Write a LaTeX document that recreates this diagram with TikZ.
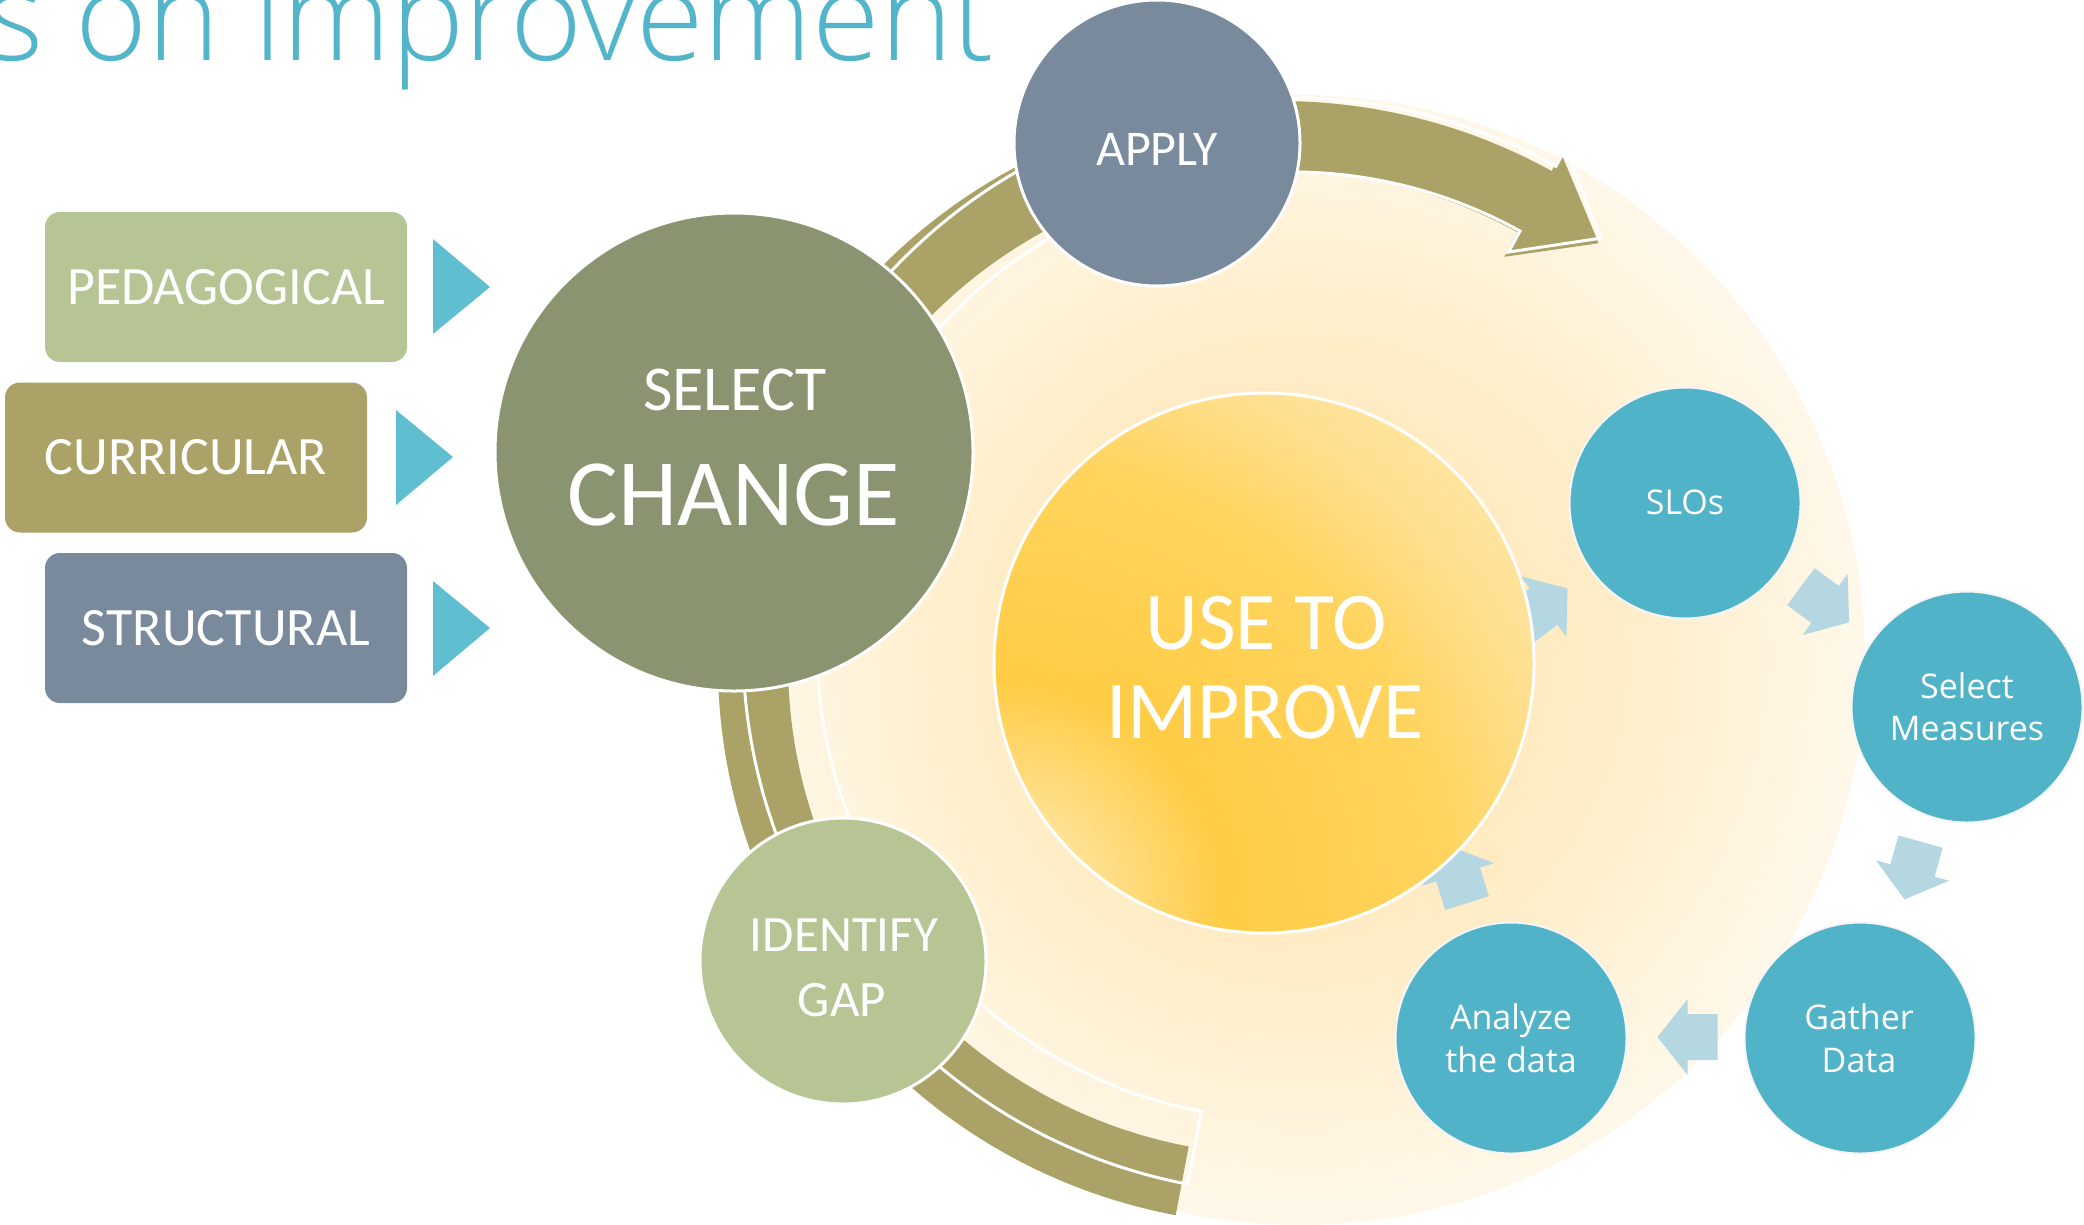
\documentclass[tikz,border=0pt]{standalone}
\usepackage{fontspec}
\setmainfont{Carlito}
\newfontfamily\osans{Open Sans}
\IfFontExistsTF{Open Sans Light}{\newfontfamily\ttlfont{Open Sans Light}}{\newfontfamily\ttlfont{Open Sans}}
\definecolor{olivearc}{HTML}{AAA266}
\definecolor{sage}{HTML}{B7C493}
\definecolor{dgreen}{HTML}{8A9470}
\definecolor{slate}{HTML}{788A9C}
\definecolor{tealc}{HTML}{51B3C8}
\definecolor{tric}{HTML}{5FBFD1}
\definecolor{lblue}{HTML}{B4D7E1}
\definecolor{titlec}{HTML}{52B5CA}
\definecolor{pg1}{HTML}{FFE6B0}
\definecolor{pg2}{HTML}{FFEDC8}
\definecolor{pg3}{HTML}{FFF8EA}
\definecolor{sun0}{HTML}{FFF0CC}
\definecolor{sun1}{HTML}{FFCC44}
\definecolor{sun2}{HTML}{FFD45E}
\definecolor{sun3}{HTML}{FFDF8E}
\definecolor{sun4}{HTML}{FFEAB0}
\pgfdeclareradialshading{paleglow}{\pgfpoint{0bp}{0bp}}{color(0bp)=(pg1); color(14bp)=(pg2); color(25bp)=(pg3); color(50bp)=(pg3)}
\pgfdeclareradialshading{sunglow}{\pgfpoint{0bp}{0bp}}{color(0bp)=(sun0); color(8bp)=(sun1); color(16bp)=(sun2); color(20bp)=(sun3); color(25bp)=(sun4); color(50bp)=(sun4)}
\tikzset{
  bigcirc/.style={circle, draw=white, line width=3pt, inner sep=0pt, outer sep=0pt},
  tealcirc/.style={circle, fill=tealc, draw=white!92!gray, line width=2pt, minimum size=231pt, inner sep=0pt},
  catbox/.style={rounded corners=15pt, minimum width=362pt, minimum height=150pt, inner sep=0pt, text=white, font=\fontsize{54}{60}\selectfont},
  lbl/.style={anchor=base, inner sep=0pt, text=white},
  small/.style={lbl, font=\osans\fontsize{34}{40}\selectfont},
  barrow/.pic={\fill[lblue] (-30,-23) -- (0,-23) -- (0,-38) -- (30,0) -- (0,38) -- (0,23) -- (-30,23) -- cycle;}
}
\begin{document}
\begin{tikzpicture}[x=1pt,y=-1pt]
\useasboundingbox (0,0) rectangle (2084,1224);
\clip (0,0) rectangle (2084,1224);
% pale background disc
\shade[shading=paleglow] (1300,660) circle[radius=565];
% olive circular arrow
\coordinate (ac) at (1280,663);
\fill[olivearc] ([shift={(100.7:562)}]ac) arc[start angle=100.7,end angle=298.9,radius=562]
  -- ([shift={(298.9:582)}]ac) -- ([shift={(307.2:527)}]ac) -- ([shift={(298.9:464)}]ac)
  -- ([shift={(298.9:492)}]ac) arc[start angle=298.9,end angle=100.7,radius=492] -- cycle;
% white offset outline of the arrow
\coordinate (oc) at (1291,646);
\draw[white, line width=3pt] ([shift={(100.9:548)}]oc) arc[start angle=100.9,end angle=298.9,radius=548]
  -- ([shift={(298.9:568)}]oc) -- ([shift={(307.2:512)}]oc) -- ([shift={(298.9:450)}]oc)
  -- ([shift={(298.9:474)}]oc) arc[start angle=298.9,end angle=100.9,radius=474] -- cycle;
% small cycle arrows
\pic[rotate=-36.5] at (1825,604.5) {barrow};
\pic[rotate=-105.6] at (1912.5,870.5) {barrow};
\pic[rotate=-180] at (1687.5,1037) {barrow};
\pic[rotate=107.5] at (1458,874.5) {barrow};
\pic[rotate=37] at (1543.5,606.5) {barrow};
% central circle
\begin{scope}
  \clip (1264,663) circle[radius=270];
  \shade[shading=sunglow] (1000,905) circle[radius=700];
\end{scope}
\node[bigcirc, minimum size=540pt] (use) at (1264,663) {};
\node[lbl, font=\fontsize{82}{90}\selectfont] (useL) at (1266,649) {USE TO};
\node[lbl, font=\fontsize{82}{90}\selectfont] (impL) at (1265,738) {IMPROVE};
% cycle circles
\node[bigcirc, fill=slate, minimum size=286pt] (apply) at (1157,143) {};
\node[lbl, font=\fontsize{50}{56}\selectfont] (applyL) at (1157,165) {APPLY};
\node[bigcirc, fill=dgreen, minimum size=478pt] (select) at (734,452) {};
\node[lbl, font=\fontsize{64}{70}\selectfont] (selL) at (735,410) {SELECT};
\node[lbl, font=\fontsize{95}{100}\selectfont] (chgL) at (734,525) {CHANGE};
\node[bigcirc, fill=sage, minimum size=286pt] (gap) at (843,961) {};
\node[lbl, font=\fontsize{51}{56}\selectfont] (idL) at (844,951) {IDENTIFY};
\node[lbl, font=\fontsize{51}{56}\selectfont] (gapL) at (842,1016) {GAP};
% teal circles
\node[tealcirc] (slo) at (1685,503) {};
\node[small] (sloL) at (1685,514) {SLOs};
\node[tealcirc] (meas) at (1967,707) {};
\node[small] (selmL) at (1967,698) {Select};
\node[small] (measL) at (1967,740) {Measures};
\node[tealcirc] (gath) at (1860,1038) {};
\node[small] (gathL) at (1859,1029) {Gather};
\node[small] (dataL) at (1859,1072) {Data};
\node[tealcirc] (ana) at (1511,1038) {};
\node[small] (anaL) at (1511,1029) {Analyze};
\node[small] (thedL) at (1511,1072) {the data};
% category boxes
\node[catbox, fill=sage] (ped) at (226,287) {PEDAGOGICAL};
\node[catbox, fill=olivearc] (cur) at (186,457.5) {CURRICULAR};
\node[catbox, fill=slate] (str) at (226,628) {STRUCTURAL};
\fill[tric] (433,239) -- (490,287) -- (433,334) -- cycle;
\fill[tric] (396,410) -- (453,457) -- (396,505) -- cycle;
\fill[tric] (433,581) -- (490,628) -- (433,676) -- cycle;
% title
\node[anchor=base west, inner sep=0pt, text=titlec, font=\ttlfont\fontsize{123}{126}\selectfont] (title) at (-14,60) {s on Improvement};
\end{tikzpicture}
\end{document}
